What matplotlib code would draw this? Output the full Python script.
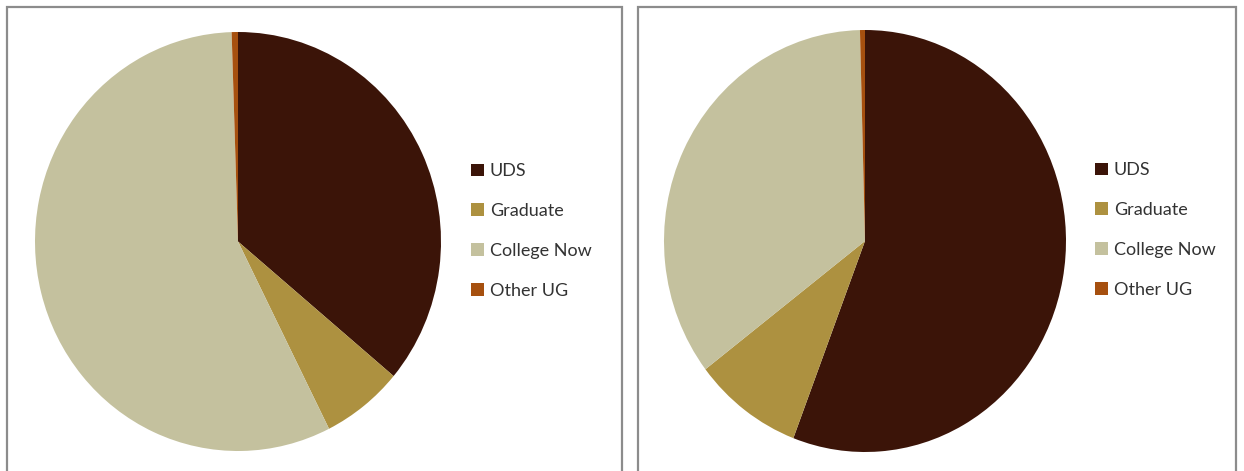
import matplotlib
matplotlib.use("Agg")
from matplotlib import pyplot as plt
from matplotlib.patches import Rectangle

labels = ["UDS", "Graduate", "College Now", "Other UG"]
colors = ["#3b1408", "#ad9140", "#c4c19e", "#a6500f"]
left_values = [36.1, 6.5, 56.9, 0.5]
right_values = [55.8, 8.8, 35.0, 0.4]

W, H = 1244, 471
fig = plt.figure(figsize=(W / 100, H / 100), dpi=100)
plt.rcParams["font.family"] = ["Lato", "DejaVu Sans"]


def px_box(x0, y0, x1, y1):
    # pixel box (top-left origin) -> figure fraction rect
    return [x0 / W, (H - y1) / H, (x1 - x0) / W, (y1 - y0) / H]


def draw_panel(values, pie_box, panel_box, legend_xy):
    # panel border
    x0, y0, x1, y1 = panel_box
    fig.patches.append(Rectangle((x0 / W, (H - y1) / H), (x1 - x0) / W, (y1 - y0) / H,
                                 transform=fig.transFigure, fill=False,
                                 edgecolor="#8c8c8c", linewidth=1.6))
    ax = fig.add_axes(px_box(*pie_box))
    wedges, _ = ax.pie(values, colors=colors, startangle=90, counterclock=False,
                       wedgeprops=dict(linewidth=0))
    ax.set_aspect("auto")
    ax.set_xlim(-1, 1)
    ax.set_ylim(-1, 1)
    ax.axis("off")
    lx, ly = legend_xy
    ax.legend(wedges, labels, loc="center left",
              bbox_to_anchor=(lx / W, (H - ly) / H), bbox_transform=fig.transFigure,
              frameon=False, fontsize=13, handlelength=0.7, handleheight=0.7,
              handletextpad=0.35, labelspacing=1.32, borderpad=0, borderaxespad=0,
              labelcolor="#333333")


draw_panel(left_values, (35, 32, 441, 451), (7, 7, 622, 480), (471, 231))
draw_panel(right_values, (664, 30, 1066, 452), (638, 7, 1236, 480), (1095, 230))

fig.savefig("out.png", dpi=100)
